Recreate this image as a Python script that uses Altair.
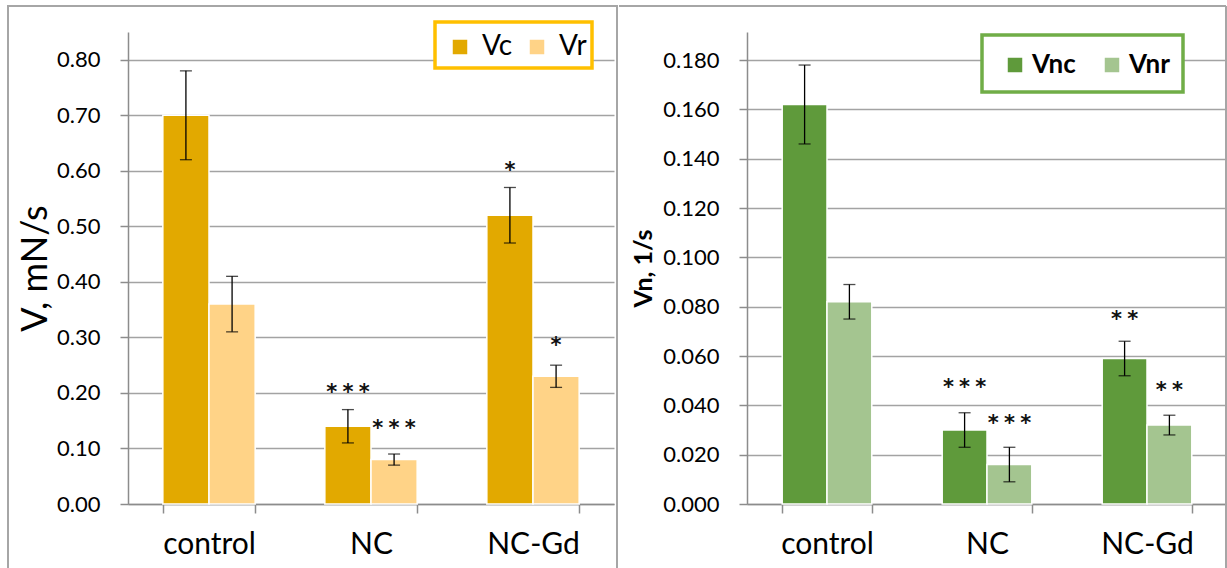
import altair as alt
import pandas as pd

groups = ["control", "NC", "NC-Gd"]

# Left panel (V, mN/s)
left_series = ["Vc", "Vr"]
vc = [0.70, 0.14, 0.52]
vc_lo = [0.62, 0.11, 0.47]
vc_hi = [0.78, 0.17, 0.57]
vr = [0.36, 0.08, 0.23]
vr_lo = [0.31, 0.07, 0.21]
vr_hi = [0.41, 0.09, 0.25]
vc_star = ["", "*\u2005*\u2005*", "*"]
vc_star_y = [0.0, 0.211, 0.61]
vr_star = ["", "*\u2005*\u2005*", "*"]
vr_star_y = [0.0, 0.146, 0.295]
left_ticks = [0.0, 0.1, 0.2, 0.3, 0.4, 0.5, 0.6, 0.7, 0.8]

# Right panel (Vn, 1/s)
right_series = ["Vnc", "Vnr"]
vnc = [0.162, 0.030, 0.059]
vnc_lo = [0.146, 0.023, 0.052]
vnc_hi = [0.178, 0.037, 0.066]
vnr = [0.082, 0.016, 0.032]
vnr_lo = [0.075, 0.009, 0.028]
vnr_hi = [0.089, 0.023, 0.036]
vnc_star = ["", "*\u2005*\u2005*", "*\u2005*"]
vnc_star_y = [0.0, 0.0495, 0.077]
vnr_star = ["", "*\u2005*\u2005*", "*\u2005*"]
vnr_star_y = [0.0, 0.0349, 0.0483]
right_ticks = [0.0, 0.02, 0.04, 0.06, 0.08, 0.10, 0.12, 0.14, 0.16, 0.18]

GRAY_AX = "#8C8C8C"
GRAY_GRID = "#A3A3A3"
GRAY_FRAME = "#A6A6A6"
FONT = "Lato"


def make_df(series, vals, los, his, stars, star_ys):
    rows = []
    for s, v, lo, hi, st, sy in zip(series, vals, los, his, stars, star_ys):
        for i, g in enumerate(groups):
            rows.append(dict(group=g, series=s, value=v[i], lo=lo[i], hi=hi[i],
                             star=st[i], star_y=sy[i]))
    return pd.DataFrame(rows)


left_df = make_df(left_series, [vc, vr], [vc_lo, vr_lo], [vc_hi, vr_hi],
                  [vc_star, vr_star], [vc_star_y, vr_star_y])
right_df = make_df(right_series, [vnc, vnr], [vnc_lo, vnr_lo], [vnc_hi, vnr_hi],
                   [vnc_star, vnr_star], [vnc_star_y, vnr_star_y])
one = pd.DataFrame({"k": [0]})


def panel(df, series, colors, domain, ticks, fmt, title, title_size, title_weight,
          title_pad, label_size, width, height, pad_inner, legend_color, legend_box,
          legend_x, legend_y, legend_font_size, legend_font_weight, legend_col_pad,
          legend_label_offset, frame_marks):
    x = alt.X("group:N", sort=groups, title=None,
              scale=alt.Scale(paddingInner=pad_inner, paddingOuter=pad_inner / 2),
              axis=alt.Axis(labelAngle=0, labelFontSize=30, labelFont=FONT,
                            labelColor="black", labelPadding=16, tickBand="extent",
                            tickSize=9, tickColor=GRAY_AX, domainColor=GRAY_AX,
                            tickWidth=1.5, domainWidth=1.5, grid=False))
    xo = alt.XOffset("series:N", sort=series,
                     scale=alt.Scale(paddingInner=0, paddingOuter=0))
    yscale = alt.Scale(domain=domain, nice=False, zero=True)
    yaxis = alt.Axis(values=ticks, format=fmt, title=title,
                     titleFontSize=title_size, titleFontWeight=title_weight,
                     titleFont=FONT, titleColor="black", titlePadding=title_pad,
                     labelFont=FONT, labelFontSize=label_size, labelColor="black",
                     labelPadding=20, tickSize=8, tickColor=GRAY_AX,
                     tickWidth=1.5, domainColor=GRAY_AX, domainWidth=1.5,
                     grid=True, gridColor=GRAY_GRID, gridWidth=1.5)

    def Y(field):
        return alt.Y(field, scale=yscale, axis=yaxis, title=title)

    bx1, bx2, by1, by2 = legend_box
    box = alt.Chart(one).mark_rect(fill="white", stroke=legend_color, strokeWidth=3.5).encode(
        x=alt.value(bx1), x2=alt.value(bx2), y=alt.value(by1), y2=alt.value(by2))
    bars = alt.Chart(df).mark_bar(stroke="white", strokeWidth=1.5).encode(
        x=x, xOffset=xo, y=Y("value:Q"),
        color=alt.Color("series:N", sort=series,
                        scale=alt.Scale(domain=series, range=colors),
                        legend=alt.Legend(orient="none", legendX=legend_x, legendY=legend_y,
                                          direction="horizontal", title=None,
                                          labelFont=FONT, labelFontSize=legend_font_size,
                                          labelFontWeight=legend_font_weight,
                                          labelColor="black", symbolType="square",
                                          symbolSize=210, symbolStrokeWidth=0,
                                          labelOffset=legend_label_offset,
                                          columnPadding=legend_col_pad, padding=0)))
    rules = alt.Chart(df).mark_rule(color="black", strokeWidth=1.3).encode(
        x=x, xOffset=xo, y=Y("lo:Q"), y2="hi:Q")
    cap_lo = alt.Chart(df).mark_tick(color="black", size=12, thickness=1.3).encode(
        x=x, xOffset=xo, y=Y("lo:Q"))
    cap_hi = alt.Chart(df).mark_tick(color="black", size=12, thickness=1.3).encode(
        x=x, xOffset=xo, y=Y("hi:Q"))
    stars = alt.Chart(df).mark_text(font="DejaVu Sans", fontSize=21, fontWeight="bold",
                                    color="#111111", baseline="middle", dy=6).encode(
        x=x, xOffset=xo, y=Y("star_y:Q"), text="star:N")
    return alt.layer(*frame_marks, box, bars, rules, cap_lo, cap_hi, stars).properties(
        width=width, height=height)


# Panel borders, relative to plot origin
left_frame = [alt.Chart(one).mark_rect(fill="transparent", stroke=GRAY_FRAME, strokeWidth=2).encode(
    x=alt.value(-120), x2=alt.value(489), y=alt.value(-26), y2=alt.value(545))]
right_frame = [
    alt.Chart(one).mark_rule(color=GRAY_FRAME, strokeWidth=2).encode(
        x=alt.value(-128), x2=alt.value(479), y=alt.value(-26)),
    alt.Chart(one).mark_rule(color=GRAY_FRAME, strokeWidth=2).encode(
        x=alt.value(479), y=alt.value(-26), y2=alt.value(545)),
]

left = panel(left_df, left_series, ["#E2A900", "#FFD387"], [0, 0.85], left_ticks, ".2f",
             "V, mN/s", 36, "normal", 2, 22, 486, 472, 0.43, "#FFC000",
             (307, 464, -10, 36), 318, 1, 28, "normal", 10, 8, left_frame)
right = panel(right_df, right_series, ["#5F9A3B", "#A4C590"], [0, 0.1914], right_ticks, ".3f",
              "Vn, 1/s", 25, "bold", 6, 22, 480, 472, 0.44, "#70AD47",
              (235, 436, 3, 60), 255, 20, 26, "bold", 23, 4, right_frame)

chart = alt.hconcat(left, right, spacing=0).resolve_scale(
    x="independent", y="independent", xOffset="independent", color="independent"
).resolve_legend(color="independent").properties(
    padding={"left": 7, "top": 5, "right": 0, "bottom": 0},
    background="white",
).configure_view(stroke=None)

chart.save("out.html", embed_options={"renderer": "svg", "actions": False})
